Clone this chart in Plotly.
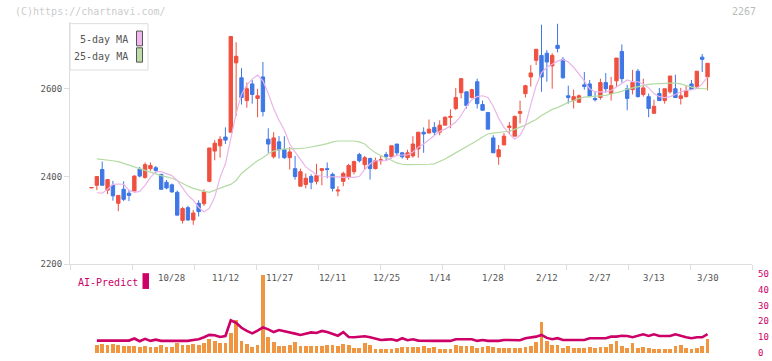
import plotly.graph_objects as go

# ---------------- data ----------------
opens = [2374,2380,2416,2369,2380,2339,2371,2362,2367,2417,2398,2418,2420,2405,2387,2381,2364,2300,2329,2301,
         2339,2338,2389,2458,2470,2490,2501,2659,2625,2573,2611,2578,2627,2485,2445,2479,2461,2443,2418,2378,
         2382,2400,2389,2414,2418,2405,2367,2389,2398,2411,2450,2427,2441,2418,2436,2450,2445,2474,2454,2443,
         2447,2463,2501,2499,2512,2501,2517,2535,2555,2591,2593,2580,2616,2564,2546,2488,2445,2472,2512,2492,
         2544,2589,2627,2665,2676,2681,2652,2699,2667,2584,2573,2569,2609,2611,2578,2580,2614,2589,2618,2685,
         2600,2598,2640,2587,2582,2544,2589,2573,2593,2600,2578,2582,2611,2605,2672,2627]
highs = [2375,2400,2434,2393,2390,2357,2389,2369,2403,2422,2432,2432,2424,2405,2392,2384,2368,2331,2333,2324,
         2346,2371,2465,2483,2492,2512,2719,2706,2647,2614,2620,2600,2661,2510,2501,2492,2492,2467,2447,2418,
         2407,2405,2429,2418,2432,2409,2378,2411,2429,2436,2454,2447,2443,2443,2447,2456,2470,2474,2456,2461,
         2492,2501,2512,2530,2524,2528,2537,2553,2602,2623,2593,2600,2623,2573,2546,2494,2472,2499,2524,2539,
         2573,2609,2654,2690,2746,2688,2681,2748,2672,2607,2598,2587,2638,2620,2595,2623,2636,2627,2670,2701,
         2609,2643,2645,2623,2589,2575,2602,2600,2629,2632,2602,2607,2620,2640,2679,2658]
lows = [2374,2369,2380,2360,2345,2321,2344,2344,2367,2398,2395,2413,2407,2370,2371,2363,2312,2293,2299,2290,
        2309,2333,2387,2437,2443,2474,2500,2538,2564,2557,2566,2535,2537,2454,2441,2441,2440,2416,2393,2378,
        2373,2371,2382,2380,2396,2366,2355,2378,2393,2405,2432,2416,2393,2416,2427,2436,2441,2447,2441,2438,
        2443,2443,2454,2499,2494,2494,2517,2510,2551,2578,2555,2578,2555,2551,2508,2454,2427,2472,2497,2492,
        2521,2580,2605,2654,2593,2616,2600,2683,2623,2566,2555,2569,2598,2582,2571,2575,2591,2573,2605,2614,
        2551,2587,2580,2582,2535,2544,2573,2566,2589,2580,2564,2580,2598,2600,2638,2596]
closes = [2375,2400,2380,2393,2356,2357,2348,2357,2401,2401,2427,2425,2414,2371,2374,2365,2312,2327,2301,2317,
          2320,2365,2465,2476,2485,2483,2719,2674,2580,2600,2587,2584,2548,2474,2488,2461,2443,2456,2400,2411,
          2396,2387,2402,2418,2416,2373,2369,2407,2425,2434,2436,2443,2418,2436,2438,2445,2470,2454,2445,2454,
          2474,2501,2497,2508,2501,2517,2535,2537,2580,2623,2562,2598,2566,2551,2508,2454,2461,2492,2515,2537,
          2548,2607,2636,2690,2627,2661,2676,2692,2625,2580,2582,2584,2605,2582,2575,2614,2600,2607,2670,2623,
          2578,2614,2582,2602,2555,2560,2573,2600,2629,2580,2584,2596,2598,2640,2667,2658]

ma5 = [2363,2362,2371,2382,2383,2382,2369,2364,2366,2380,2398,2411,2411,2407,2402,2391,2373,2357,2346,2330,
       2319,2328,2353,2398,2429,2483,2544,2587,2609,2622,2631,2618,2589,2555,2528,2506,2474,2456,2440,2422,
       2413,2404,2400,2400,2400,2399,2398,2398,2398,2400,2416,2429,2436,2436,2436,2443,2448,2449,2449,2456,
       2467,2474,2483,2492,2503,2508,2515,2524,2539,2560,2575,2582,2584,2580,2560,2533,2512,2497,2485,2494,
       2517,2564,2607,2636,2649,2656,2663,2667,2661,2649,2634,2618,2600,2593,2593,2593,2596,2604,2613,2620,
       2616,2616,2611,2602,2589,2582,2580,2582,2587,2593,2596,2598,2600,2611,2627]
ma25 = [2440,2439,2438,2436,2434,2430,2426,2421,2417,2413,2409,2406,2402,2399,2396,2391,2384,2378,2373,2369,
        2366,2364,2369,2373,2378,2382,2391,2407,2418,2427,2436,2443,2452,2458,2461,2463,2463,2463,2464,2465,
        2467,2470,2472,2475,2479,2481,2481,2481,2481,2479,2474,2463,2454,2448,2443,2437,2431,2428,2427,2427,
        2427,2427,2428,2429,2434,2440,2447,2454,2461,2467,2474,2482,2490,2497,2499,2501,2502,2503,2508,2512,
        2517,2524,2530,2539,2546,2553,2557,2564,2569,2573,2578,2581,2582,2582,2583,2585,2588,2591,2594,2599,
        2602,2604,2608,2610,2611,2612,2613,2613,2613,2611,2607,2604,2601,2600,2600]

volume = [5.2,5.8,5.2,5.8,5.2,4.6,4.6,4.6,4.0,4.6,4.0,4.0,5.2,4.0,4.0,6.5,5.2,5.2,5.8,5.2,
          6.5,9.0,7.7,6.5,6.5,12.7,20.8,7.7,5.8,4.0,5.2,49.6,10.2,7.1,4.6,4.6,5.2,7.1,4.6,4.6,
          4.6,4.6,4.6,5.2,5.2,4.6,5.8,5.2,3.3,3.3,6.5,5.2,2.7,2.7,2.7,2.7,3.1,3.5,4.0,4.0,
          4.0,4.6,3.3,4.0,2.7,2.7,2.7,5.2,4.6,4.6,4.6,3.3,4.0,4.6,4.0,3.3,3.3,3.3,3.3,3.3,
          4.0,4.6,7.1,19.6,7.7,5.2,5.2,3.3,4.6,3.3,3.3,3.3,4.0,3.3,4.0,4.0,5.8,7.7,4.6,3.3,
          6.5,3.3,4.0,3.3,2.7,2.7,2.7,2.7,4.6,5.2,3.3,2.7,3.3,4.6,9.0]
ai_predict = [7.9,7.9,7.9,7.9,7.9,7.9,7.9,9.2,7.5,9.0,7.7,8.5,7.7,7.7,7.7,7.7,7.7,7.7,8.3,8.75,
              10.0,11.5,11.25,10.2,10.8,20.8,19.2,16.0,14.0,12.5,14.2,16.25,15.0,13.3,14.6,13.75,12.7,12.3,11.5,12.1,
              13.1,12.7,14.0,13.3,12.1,11.0,13.3,10.2,10.0,10.2,10.6,10.0,9.2,8.3,8.5,8.75,7.9,9.4,8.1,8.75,
              7.9,7.7,7.7,7.7,7.7,7.7,7.7,8.75,8.75,8.75,8.75,7.7,8.3,7.7,7.7,7.7,8.3,8.3,8.1,8.1,
              9.4,10.0,10.4,11.5,9.6,8.75,9.4,8.3,8.3,8.3,8.3,8.3,9.4,9.4,9.4,9.4,10.4,10.4,11.0,10.8,
              10.0,10.8,11.9,10.8,11.9,10.8,10.8,10.8,11.9,10.8,10.0,9.4,10.0,10.0,12.0]

date_labels = ['10/28','11/12','11/27','12/11','12/25','1/14','1/28','2/12','2/27','3/13','3/30']
date_label_idx = [15,25,35,45,55,65,75,85,95,105,115]
price_ticks = [2200, 2400, 2600]
sub_ticks = [0, 10, 20, 30, 40, 50]

# ---------------- geometry helpers ----------------
W, H = 772, 361
def px(x): return x / W
def py(y): return (H - y) / H

candle_x = list(range(len(opens)))
series_x = list(range(1, len(ma5) + 1))

RED = '#f0503f'
BLUE = '#3e77e6'
MAG = '#cc0066'
TXT = '#555555'
AX = '#dddddd'
FONT = 'DejaVu Sans Mono'

fig = go.Figure()

fig.add_trace(go.Candlestick(
    x=candle_x, open=opens, high=highs, low=lows, close=closes,
    increasing=dict(line=dict(color=RED, width=1), fillcolor=RED),
    decreasing=dict(line=dict(color=BLUE, width=1), fillcolor=BLUE),
    whiskerwidth=0, showlegend=False, hoverinfo='skip'))

fig.add_trace(go.Scatter(x=series_x, y=ma25, mode='lines',
                         line=dict(color='#b3dba3', width=1.2), showlegend=False, hoverinfo='skip'))
fig.add_trace(go.Scatter(x=series_x, y=ma5, mode='lines',
                         line=dict(color='#e9b5ea', width=1.2), showlegend=False, hoverinfo='skip'))

fig.add_trace(go.Bar(x=series_x, y=volume, yaxis='y2', marker=dict(color='#f09540', line=dict(width=0)),
                     width=0.7, showlegend=False, hoverinfo='skip'))
fig.add_trace(go.Scatter(x=series_x, y=ai_predict, yaxis='y2', mode='lines',
                         line=dict(color=MAG, width=2.6), showlegend=False, hoverinfo='skip'))

x0, x1 = 70, 752
c0, step = 91.5, 5.357
xr = [(x0 - c0) / step, (x1 - c0) / step]
units_per_px = 200 / 89.0
TOP = 22

fig.update_layout(
    width=W, height=H, margin=dict(l=0, r=0, t=0, b=0),
    paper_bgcolor='white', plot_bgcolor='white',
    bargap=0, boxgap=0.1,
    xaxis=dict(domain=[px(x0), px(x1)], range=xr, showgrid=False, zeroline=False,
               showline=True, linecolor=AX, linewidth=1,
               ticks='outside', ticklen=5, tickcolor=AX, tickwidth=1,
               tick0=xr[0], dtick=62 / step, showticklabels=False,
               rangeslider=dict(visible=False), anchor='y'),
    yaxis=dict(domain=[py(268), py(TOP)], range=[2200, 2200 + (268 - TOP) * units_per_px],
               showgrid=False, zeroline=False, showline=True, linecolor=AX, linewidth=1,
               ticks='outside', ticklen=5, tickcolor=AX, tickvals=price_ticks,
               tickfont=dict(family=FONT, size=9, color=TXT), anchor='x'),
    yaxis2=dict(domain=[py(358), py(278)], range=[0, 50], side='right', anchor='x',
                showgrid=False, zeroline=False, showline=False, ticks='',
                showticklabels=False),
)

shapes = []
ann = []
# legend box
shapes.append(dict(type='rect', xref='paper', yref='paper', x0=px(70), x1=px(148), y0=py(71), y1=py(24),
                   line=dict(color='#dddddd', width=1), fillcolor='white', layer='above'))
shapes.append(dict(type='rect', xref='paper', yref='paper', x0=px(136.5), x1=px(142.5), y0=py(46.5), y1=py(31.5),
                   line=dict(color='#555555', width=1), fillcolor='#eeb8ee', layer='above'))
shapes.append(dict(type='rect', xref='paper', yref='paper', x0=px(136.5), x1=px(142.5), y0=py(63), y1=py(48.5),
                   line=dict(color='#555555', width=1), fillcolor='#bbddaa', layer='above'))
ann.append(dict(xref='paper', yref='paper', x=px(130), y=py(40), text='5-day MA', showarrow=False,
                xanchor='right', yanchor='middle', font=dict(family=FONT, size=10, color=TXT)))
ann.append(dict(xref='paper', yref='paper', x=px(130), y=py(57), text='25-day MA', showarrow=False,
                xanchor='right', yanchor='middle', font=dict(family=FONT, size=10, color=TXT)))
# AI-Predict legend
shapes.append(dict(type='rect', xref='paper', yref='paper', x0=px(142.5), x1=px(149), y0=py(293), y1=py(277),
                   line=dict(width=0), fillcolor=MAG))
ann.append(dict(xref='paper', yref='paper', x=px(76), y=py(286), text='AI-Predict', showarrow=False,
                xanchor='left', yanchor='middle', font=dict(family=FONT, size=10, color=MAG)))
# copyright / code
ann.append(dict(xref='paper', yref='paper', x=px(13), y=py(12), text='(C)https://chartnavi.com/', showarrow=False,
                xanchor='left', yanchor='middle', font=dict(family=FONT, size=10, color='#cccccc')))
ann.append(dict(xref='paper', yref='paper', x=px(758), y=py(12), text='2267', showarrow=False,
                xanchor='right', yanchor='middle', font=dict(family=FONT, size=10, color='#bbbbbb')))
# date labels
for idx, lab in zip(date_label_idx, date_labels):
    ann.append(dict(xref='x', yref='paper', x=idx, y=py(282), text=lab, showarrow=False,
                    xanchor='center', yanchor='middle', font=dict(family=FONT, size=9, color=TXT)))
# right-hand scale of the lower panel
for v in sub_ticks:
    ann.append(dict(xref='paper', yref='y2', x=px(756), y=v, text=str(v), showarrow=False,
                    xanchor='left', yanchor='middle', font=dict(family=FONT, size=9, color=MAG)))

fig.update_layout(shapes=shapes, annotations=ann)
post = ("document.documentElement.style.margin='0';document.documentElement.style.overflow='hidden';"
        "document.body.style.margin='0';document.body.style.padding='0';document.body.style.overflow='hidden';")
fig.write_html('out.html', config={'displayModeBar': False}, post_script=post)
